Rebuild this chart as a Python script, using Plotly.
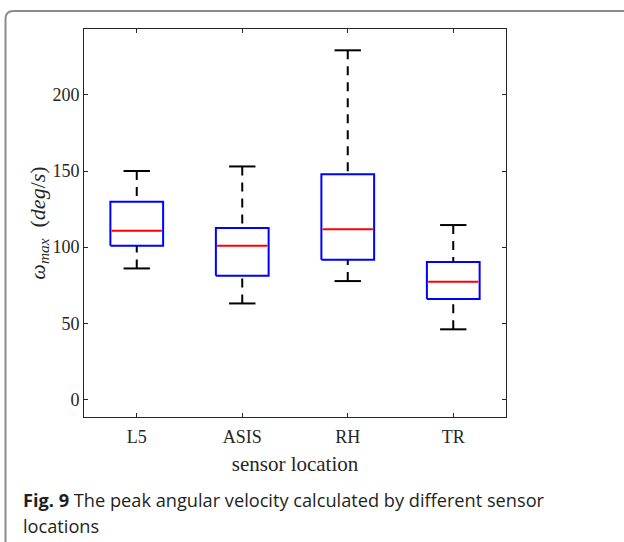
import plotly.graph_objects as go

# ---- data ----
locations = ["L5", "ASIS", "RH", "TR"]
lower_whisker = [86, 63, 77.7, 46]
q1_values = [100.9, 81.2, 91.7, 65.9]
median_values = [110.8, 100.9, 111.7, 77.3]
q3_values = [129.8, 112.5, 147.8, 90.2]
upper_whisker = [150, 153, 229.3, 114.5]
y_ticks = [0, 50, 100, 150, 200]

# ---- layout constants ----
W, H = 624, 542
ML, MR, MT, MB = 84, 118, 29, 125
PW, PH = W - ML - MR, H - MT - MB
BOX_W = 0.5
CAP_W = 0.25

def px_x(p):
    return (p - ML) / PW

def px_y(p):
    return (H - MB - p) / PH

pos = list(range(1, len(locations) + 1))

fig = go.Figure()

# whiskers (dashed black)
wx, wy = [], []
for i, lo, q1, q3, hi in zip(pos, lower_whisker, q1_values, q3_values, upper_whisker):
    wx += [i, i, None, i, i, None]
    wy += [hi, q3, None, lo, q1, None]
fig.add_trace(go.Scatter(x=wx, y=wy, mode="lines",
                         line=dict(color="black", width=2, dash="9px,7px"),
                         hoverinfo="skip", showlegend=False))

# caps (solid black)
cx, cy = [], []
for i, lo, hi in zip(pos, lower_whisker, upper_whisker):
    cx += [i - CAP_W / 2, i + CAP_W / 2, None, i - CAP_W / 2, i + CAP_W / 2, None]
    cy += [hi, hi, None, lo, lo, None]
fig.add_trace(go.Scatter(x=cx, y=cy, mode="lines",
                         line=dict(color="black", width=2),
                         hoverinfo="skip", showlegend=False))

# boxes (blue rectangles, q1..q3)
bx, by = [], []
for i, q1, q3 in zip(pos, q1_values, q3_values):
    l, r = i - BOX_W / 2, i + BOX_W / 2
    bx += [l, r, r, l, l, None]
    by += [q1, q1, q3, q3, q1, None]
fig.add_trace(go.Scatter(x=bx, y=by, mode="lines",
                         line=dict(color="#0000ff", width=2),
                         hoverinfo="skip", showlegend=False))

# medians (red)
mx, my = [], []
for i, m in zip(pos, median_values):
    mx += [i - BOX_W / 2 + 0.012, i + BOX_W / 2 - 0.012, None]
    my += [m, m, None]
fig.add_trace(go.Scatter(x=mx, y=my, mode="lines",
                         line=dict(color="#ff0000", width=2),
                         hoverinfo="skip", showlegend=False))

serif = "Liberation Serif"
axis_common = dict(showgrid=False, zeroline=False, showline=True,
                   linecolor="#262626", linewidth=1, mirror="ticks",
                   ticks="inside", ticklen=4, tickwidth=1, tickcolor="#262626",
                   tickfont=dict(family=serif, size=18, color="#262626"))

fig.update_layout(
    width=W, height=H,
    margin=dict(l=ML, r=MR, t=MT, b=MB),
    paper_bgcolor="white", plot_bgcolor="white",
    xaxis=dict(range=[0.5, 4.5], tickvals=pos, ticktext=locations,
               ticklabelstandoff=3,
               title=dict(text="sensor location",
                          font=dict(family=serif, size=21, color="#262626"),
                          standoff=10),
               **axis_common),
    yaxis=dict(range=[-11.6, 243.3], tickvals=y_ticks,
               title=dict(text="<i>ω<sub>max</sub></i>  (<i>deg</i>/<i>s</i>)",
                          font=dict(family=serif, size=22, color="#262626"),
                          standoff=0),
               **axis_common),
    showlegend=False,
)

# outer rounded frame
x0, xr = px_x(5.5), px_x(640)
yt, yb = px_y(11), px_y(560)
rx, ry = 8 / PW, 8 / PH
fig.add_shape(type="path", xref="paper", yref="paper",
              path=f"M {x0},{yb} L {x0},{yt - ry} Q {x0},{yt} {x0 + rx},{yt} L {xr},{yt}",
              line=dict(color="#8c8c8c", width=2))

cap_font = dict(family="Open Sans", size=18.2, color="#231f20")
fig.add_annotation(xref="paper", yref="paper", x=px_x(21), y=px_y(500),
                   xanchor="left", yanchor="middle", showarrow=False,
                   text="<b>Fig. 9</b> The peak angular velocity calculated by different sensor",
                   font=cap_font)
fig.add_annotation(xref="paper", yref="paper", x=px_x(21), y=px_y(526),
                   xanchor="left", yanchor="middle", showarrow=False,
                   text="locations", font=cap_font)

fig.write_html("out.html")
